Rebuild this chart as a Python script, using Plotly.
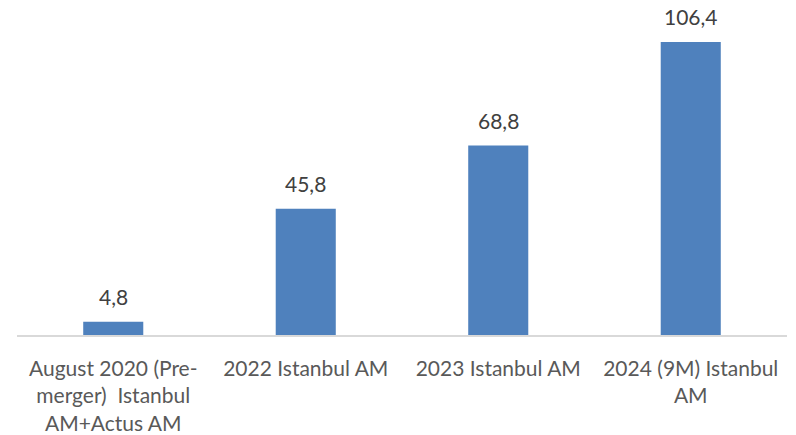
import plotly.graph_objects as go

categories = ["August 2020 (Pre-<br>merger)  Istanbul<br>AM+Actus AM",
              "2022 Istanbul AM",
              "2023 Istanbul AM",
              "2024 (9M) Istanbul<br>AM"]
values = [4.8, 45.8, 68.8, 106.4]
labels = ["4,8", "45,8", "68,8", "106,4"]

x = list(range(len(values)))
fig = go.Figure()
fig.add_trace(go.Bar(x=x, y=values, marker=dict(color="#4f81bd", line=dict(width=0)),
                     width=0.312))
for xi, v, t in zip(x, values, labels):
    fig.add_annotation(x=xi, y=v, text=t, showarrow=False, yanchor="bottom",
                       yshift=11, font=dict(family="Lato", size=21, color="#404040"))

fig.update_layout(
    width=796, height=435,
    margin=dict(l=17, r=9, t=18, b=100),
    plot_bgcolor="white", paper_bgcolor="white",
    showlegend=False,
    xaxis=dict(tickmode="array", tickvals=x, ticktext=categories, range=[-0.5, 3.5],
               showline=True, linecolor="#d9d9d9", linewidth=1.5, ticks="",
               ticklabelstandoff=14, automargin=False,
               tickfont=dict(family="Lato", size=21, color="#595959")),
    yaxis=dict(range=[0, 115.1], visible=False, showgrid=False, zeroline=False,
               automargin=False),
)
fig.write_html("out.html")
